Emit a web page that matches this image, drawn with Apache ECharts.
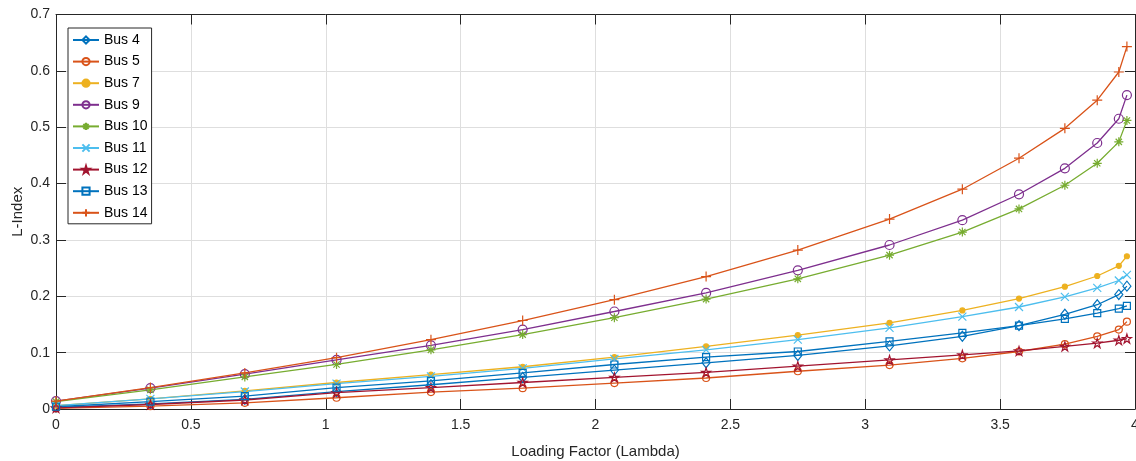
<!DOCTYPE html>
<html>
<head>
<meta charset="utf-8">
<script src="https://cdn.jsdelivr.net/npm/echarts@6/dist/echarts.min.js"></script>
<style>
html,body{margin:0;padding:0;background:#fff;}
#chart{width:1136px;height:461px;}
</style>
</head>
<body>
<div id="chart"></div>
<script>
// Loading factor (x values)
const lambda = [0, 0.35, 0.70, 1.04, 1.39, 1.73, 2.07, 2.41, 2.75, 3.09, 3.36, 3.57, 3.74, 3.86, 3.94, 3.97];

// L-Index per bus
const bus4  = [0.003, 0.009, 0.017, 0.031, 0.043, 0.056, 0.069, 0.082, 0.095, 0.112, 0.129, 0.148, 0.168, 0.185, 0.203, 0.218];
const bus5  = [0.001, 0.005, 0.011, 0.020, 0.030, 0.037, 0.046, 0.055, 0.067, 0.078, 0.090, 0.102, 0.115, 0.129, 0.141, 0.155];
const bus7  = [0.006, 0.018, 0.032, 0.047, 0.061, 0.075, 0.092, 0.111, 0.131, 0.153, 0.175, 0.196, 0.217, 0.236, 0.254, 0.271];
const bus9  = [0.014, 0.037, 0.062, 0.087, 0.113, 0.141, 0.173, 0.206, 0.246, 0.291, 0.335, 0.381, 0.427, 0.472, 0.515, 0.557];
const bus10 = [0.013, 0.034, 0.057, 0.079, 0.105, 0.132, 0.162, 0.195, 0.231, 0.273, 0.314, 0.355, 0.397, 0.436, 0.474, 0.512];
const bus11 = [0.006, 0.018, 0.031, 0.045, 0.058, 0.072, 0.089, 0.105, 0.123, 0.144, 0.164, 0.181, 0.199, 0.215, 0.228, 0.238];
const bus12 = [0.002, 0.008, 0.016, 0.029, 0.038, 0.047, 0.056, 0.065, 0.076, 0.087, 0.096, 0.103, 0.111, 0.117, 0.122, 0.125];
const bus13 = [0.004, 0.013, 0.023, 0.038, 0.050, 0.064, 0.079, 0.092, 0.102, 0.120, 0.135, 0.148, 0.160, 0.170, 0.178, 0.183];
const bus14 = [0.014, 0.038, 0.064, 0.091, 0.123, 0.157, 0.194, 0.235, 0.282, 0.337, 0.390, 0.445, 0.498, 0.548, 0.598, 0.643];

const seriesNames = ['Bus 4','Bus 5','Bus 7','Bus 9','Bus 10','Bus 11','Bus 12','Bus 13','Bus 14'];
const seriesValues = [bus4, bus5, bus7, bus9, bus10, bus11, bus12, bus13, bus14];
const xTickLabels = ['0','0.5','1','1.5','2','2.5','3','3.5','4'];
const yTickLabels = ['0','0.1','0.2','0.3','0.4','0.5','0.6','0.7'];

const PLUS = 'path://M5,0L5,10M0,5L10,5';
const CROSS = 'path://M0,0L10,10M10,0L0,10';
const ASTER = 'path://M5,0L5,10M0,5L10,5M1.5,1.5L8.5,8.5M8.5,1.5L1.5,8.5';
const STAR = 'path://M5,0L6.123,3.455L9.755,3.455L6.817,5.59L7.939,9.045L5,6.91L2.061,9.045L3.183,5.59L0.245,3.455L3.877,3.455Z';

const styles = [
  {color:'#0072BD', symbol:'diamond', size:[8,10], fill:'none'},
  {color:'#D95319', symbol:'circle', size:7, fill:'none'},
  {color:'#EDB120', symbol:'circle', size:5, fill:'#EDB120'},
  {color:'#7E2F8E', symbol:'circle', size:9, fill:'none'},
  {color:'#77AC30', symbol:ASTER, size:9, fill:'none'},
  {color:'#4DBEEE', symbol:CROSS, size:8, fill:'none'},
  {color:'#A2142F', symbol:STAR, size:9, fill:'none'},
  {color:'#0072BD', symbol:'rect', size:7, fill:'none'},
  {color:'#D95319', symbol:PLUS, size:10, fill:'none'}
];

const FONT = 'Liberation Sans, Arial, sans-serif';
const TXT = '#262626';

const series = seriesNames.map((name, i) => {
  const s = styles[i];
  return {
    name: name,
    type: 'line',
    data: lambda.map((x, j) => [x, seriesValues[i][j]]),
    symbol: s.symbol,
    symbolSize: s.size,
    showAllSymbol: true,
    lineStyle: {color: s.color, width: 1.3},
    itemStyle: {color: s.fill, borderColor: s.color, borderWidth: 1.2},
    emphasis: {disabled: true},
    z: 3
  };
});

const chart = echarts.init(document.getElementById('chart'), null, {renderer: 'canvas'});
const gridLine = {show: true, lineStyle: {color: '#dedede', width: 1}};
chart.setOption({
  animation: false,
  backgroundColor: '#fff',
  grid: {left: 56, right: 1, top: 14.5, bottom: 52, containLabel: false, outerBoundsMode: 'none'},
  legend: {
    orient: 'vertical',
    left: 68, top: 28,
    padding: [5, 4, 4, 4],
    itemWidth: 26, itemHeight: 9, itemGap: 7.6,
    backgroundColor: '#fff',
    borderColor: TXT, borderWidth: 1,
    textStyle: {fontFamily: FONT, fontSize: 14, color: '#000'},
    data: seriesNames
  },
  xAxis: [{
    type: 'value', min: 0, max: 4, interval: 0.5,
    name: 'Loading Factor (Lambda)', nameLocation: 'middle', nameGap: 35,
    nameMoveOverlap: false,
    nameTextStyle: {fontFamily: FONT, fontSize: 15, color: TXT},
    axisLine: {show: true, onZero: false, lineStyle: {color: TXT, width: 1}},
    axisTick: {show: true, inside: true, length: 10, lineStyle: {color: TXT}},
    axisLabel: {fontFamily: FONT, fontSize: 14, color: TXT, margin: 9,
      formatter: (v) => xTickLabels[Math.round(v / 0.5)]},
    splitLine: gridLine
  }, {
    type: 'value', min: 0, max: 4, interval: 0.5, position: 'top',
    axisLine: {show: true, onZero: false, lineStyle: {color: TXT, width: 1}},
    axisTick: {show: true, inside: true, length: 10, lineStyle: {color: TXT}},
    axisLabel: {show: false}, splitLine: {show: false}
  }],
  yAxis: [{
    type: 'value', min: 0, max: 0.7, interval: 0.1,
    name: 'L-Index', nameLocation: 'middle', nameGap: 31,
    nameMoveOverlap: false,
    nameTextStyle: {fontFamily: FONT, fontSize: 15, color: TXT},
    axisLine: {show: true, onZero: false, lineStyle: {color: TXT, width: 1}},
    axisTick: {show: true, inside: true, length: 10, lineStyle: {color: TXT}},
    axisLabel: {fontFamily: FONT, fontSize: 14, color: TXT, margin: 6,
      formatter: (v) => yTickLabels[Math.round(v / 0.1)]},
    splitLine: gridLine
  }, {
    type: 'value', min: 0, max: 0.7, interval: 0.1, position: 'right',
    axisLine: {show: true, onZero: false, lineStyle: {color: TXT, width: 1}},
    axisTick: {show: true, inside: true, length: 10, lineStyle: {color: TXT}},
    axisLabel: {show: false}, splitLine: {show: false}
  }],
  series: series
});
</script>
</body>
</html>
